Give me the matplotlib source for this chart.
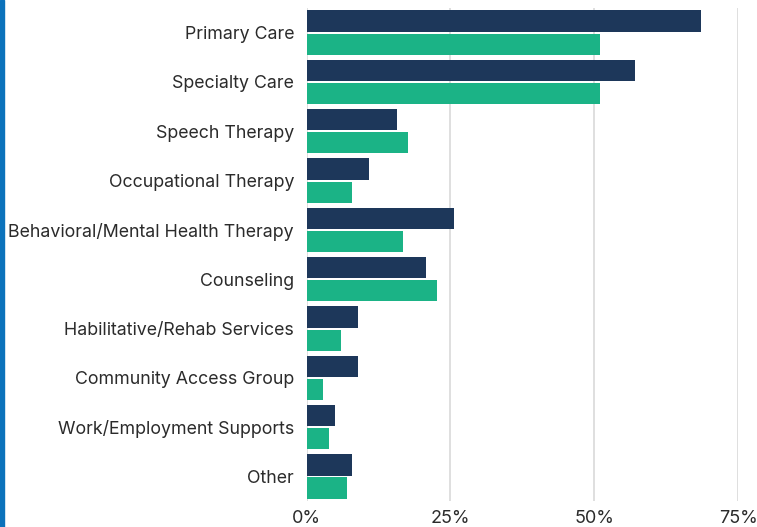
import matplotlib.pyplot as plt
import matplotlib.patches as patches
import numpy as np

plt.rcParams['font.family'] = ['Inter', 'DejaVu Sans']

categories = ['Primary Care', 'Specialty Care', 'Speech Therapy', 'Occupational Therapy',
              'Behavioral/Mental Health Therapy', 'Counseling', 'Habilitative/Rehab Services',
              'Community Access Group', 'Work/Employment Supports', 'Other']
series_a = [68.6, 57.0, 15.7, 10.9, 25.6, 20.7, 8.9, 8.9, 4.9, 7.9]
series_b = [51.0, 51.0, 17.7, 7.9, 16.8, 22.6, 5.9, 2.9, 3.9, 7.0]
x_ticks = [0, 25, 50, 75]
x_tick_labels = ['0%', '25%', '50%', '75%']

navy = '#1d375a'
green = '#1bb386'
text_color = '#2b2b2b'

fig = plt.figure(figsize=(7.57, 5.27), dpi=100)
ax = fig.add_axes([0.405, 0.049, 0.570, 0.936])

y = np.arange(len(categories))
h = 0.43
ax.barh(y - h / 2 - 0.02, series_a, height=h, color=navy, zorder=3)
ax.barh(y + h / 2 + 0.02, series_b, height=h, color=green, zorder=3)

ax.set_xlim(0, 75)
ax.set_ylim(len(categories) - 0.5, -0.5)
ax.set_yticks(y)
ax.set_yticklabels(categories, fontsize=12.8, color=text_color)
ax.set_xticks(x_ticks)
ax.set_xticklabels(x_tick_labels, fontsize=13, color=text_color)
ax.tick_params(axis='y', length=0, pad=9)
ax.tick_params(axis='x', length=0, pad=6)
ax.xaxis.grid(True, color='#d6d6d6', linewidth=1.1, zorder=0)
for s in ax.spines.values():
    s.set_visible(False)

# blue rule along the left edge
fig.patches.append(patches.Rectangle((0, 0), 3.5 / 757, 1, transform=fig.transFigure,
                                     color='#0b72bb', zorder=5))

fig.savefig('out.png', dpi=100)
